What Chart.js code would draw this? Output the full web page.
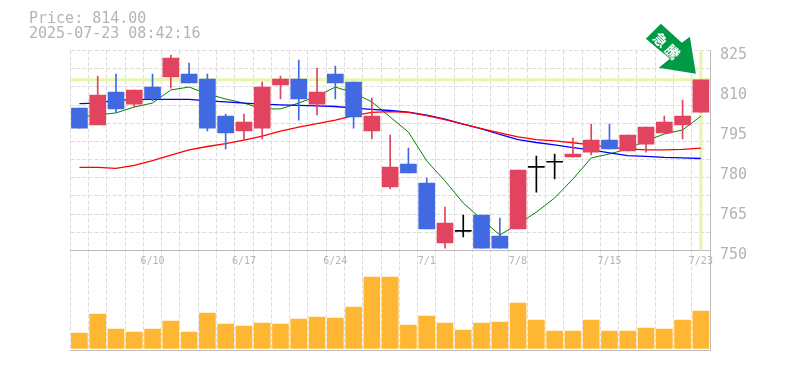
<!DOCTYPE html>
<html lang="ja">
<head>
<meta charset="utf-8" />
<title>Price: 814.00</title>
<style>
*{margin:0;padding:0}
body{background:#fff;width:785px;height:370px;overflow:hidden;position:relative}
canvas{display:block}
#stamp{
    position:absolute;left:29px;top:11px;
    font:15px/14.5px "DejaVu Sans Mono",monospace;
    color:#b4b4b4;white-space:pre;
}
</style>
</head>
<body>
<canvas id="chart" width="785" height="370"></canvas>
<div id="stamp">Price: 814.00
2025-07-23 08:42:16</div>

<script src="https://cdn.jsdelivr.net/npm/chart.js@4.4.1"></script>
<script>
/* daily data */
const dates = ['6/4','6/5','6/6','6/9','6/10','6/11','6/12','6/13','6/16','6/17','6/18','6/19','6/20','6/23','6/24','6/25','6/26','6/27','6/30','7/1','7/2','7/3','7/4','7/7','7/8','7/9','7/10','7/11','7/14','7/15','7/16','7/17','7/18','7/22','7/23'];
const opens  = [803.4,797.1,809.4,804.9,811.3,815.1,816.2,814.3,800.4,794.8,795.9,812.1,814.3,804.9,816.2,813.2,794.8,773.8,782.4,775.3,752.8,757.2,763.3,755.4,758.1,781.2,783.1,785.1,786.9,791.4,787.3,789.9,794.1,797.1,801.9];
const closes = [795.9,808.3,803.1,810.2,806.8,822.2,812.8,795.9,794.1,798.2,811.3,814.3,806.8,809.4,812.8,800.1,800.4,781.3,779.1,758.1,760.3,757.2,750.9,750.9,780.2,781.2,783.1,786.2,791.4,788.1,793.3,796.3,798.2,800.4,814];
const highs  = [803.4,815.4,816.2,810.2,816.2,823.3,820.3,816.2,801.2,801.2,813.2,815.4,821.4,818.4,819.2,813.2,807.2,793.3,788.4,777.2,766.3,763.3,763.3,762.2,780.2,785.4,786.2,792.2,797.4,797.4,793.3,796.3,800.4,806.4,814];
const lows   = [795.9,797.1,801.9,803.8,806.1,810.9,812.8,794.8,788.1,791.4,791.8,806.8,798.9,800.8,806.8,795.9,791.8,773.1,779.1,758.1,750.9,755.1,750.9,750.9,758.1,771.9,776.8,785.1,785.8,788.1,787.3,786.9,794.1,791.8,801.9];
const volumes = [1530,3430,1930,1630,1930,2730,1630,3530,2430,2230,2530,2430,2930,3130,3030,4130,7130,7130,2330,3230,2530,1830,2530,2630,4530,2830,1730,1730,2830,1730,1730,2030,1930,2830,3730];
const maGreen = [800.1,800.8,801.6,803.8,805.3,810.2,811.3,808.7,806.8,805.3,803.1,803.1,805.3,807.9,811.3,809.1,805.7,800.1,794.4,783.6,776.1,767.8,761.8,755.8,759.9,764.4,769.7,776.8,784.7,786.2,788.1,791.1,793.7,795.2,800.4];
const maBlue  = [805.1,805.3,806.4,806.6,806.7,806.7,806.7,806.1,805.7,805.3,804.9,804.6,804.4,804.2,804.0,803.4,802.9,802.5,801.9,800.8,799.3,797.4,795.6,793.5,791.6,790.5,789.6,788.6,787.7,786.6,785.6,785.3,784.9,784.7,784.5];
const maRed   = [781.2,781.2,780.8,781.9,783.7,785.8,787.7,789.0,790.1,791.4,792.9,794.8,796.3,797.6,798.9,800.6,801.8,802.1,801.8,800.6,799.1,797.4,795.7,794.1,792.6,791.6,791.1,790.4,789.6,788.8,788.1,787.7,787.7,787.9,788.4];

const dateTicks  = ['6/10','6/17','6/24','7/1','7/8','7/15','7/23'];
const priceTicks = [825,810,795,780,765,750];
const gridTicks  = [818.2,811.4,804.5,797.7,790.9,784.1,777.3,770.5,763.6,756.8];
const lastPrice  = 814;

const RED='#e2435f', BLUE='#4169e1', DOJI='#000', GRID='#dcdcdc', AXIS='#bbb', LABEL='#b4b4b4', MARK='#e5f5a9', ARROW='#009944';
const candleColor = opens.map((o,i)=> closes[i]>o ? RED : closes[i]<o ? BLUE : DOJI);

/* last price cross under the candles, arrow above them */
const marks = {
    id:'marks',
    beforeDatasetsDraw(c){
        const {ctx,chartArea:a,scales:s} = c;
        const px = s.x.getPixelForValue(dates.length-1), py = s.y.getPixelForValue(lastPrice);
        ctx.save();
        ctx.strokeStyle = MARK;
        ctx.lineWidth = 3;
        ctx.beginPath();
        ctx.moveTo(a.left,py); ctx.lineTo(a.right,py);
        ctx.moveTo(px,s.y.top); ctx.lineTo(px,s.y.bottom);
        ctx.stroke();
        ctx.restore();
    },
    afterDatasetsDraw(c){
        const {ctx,scales:s} = c;
        const px = s.x.getPixelForValue(dates.length-1), py = s.y.getPixelForValue(lastPrice);
        ctx.save();
        ctx.translate(px-5,py-6);   // arrow tip
        ctx.fillStyle = ARROW;
        ctx.beginPath();
        [[0,0],[-6,-37],[-14,-31],[-35,-50],[-50,-35],[-26,-15],[-37,-6]].forEach(p=>ctx.lineTo(p[0],p[1]));
        ctx.closePath();
        ctx.fill();
        ctx.translate(-29,-27.5);
        ctx.rotate(Math.PI/4);
        ctx.fillStyle = '#fff';
        ctx.font = 'bold 14px "Noto Sans CJK JP"';
        ctx.letterSpacing = '3px';
        ctx.textAlign = 'center';
        ctx.textBaseline = 'middle';
        ctx.fillText('急騰',1,0);
        ctx.restore();
    }
};

const line = (data,color,width)=>({type:'line',data,borderColor:color,borderWidth:width,pointRadius:0,tension:0,yAxisID:'y',order:5});

new Chart(document.getElementById('chart'),{
    type:'bar',
    data:{
        labels:dates,
        datasets:[
            line(maRed,'#f00',1.3),
            line(maBlue,'#00f',1.3),
            line(maGreen,'#008000',1),
            {data:lows.map((l,i)=>[l,highs[i]]),backgroundColor:candleColor,barThickness:1,grouped:false,yAxisID:'y',order:3},
            {data:opens.map((o,i)=>[o,closes[i]]),backgroundColor:candleColor,barThickness:16,minBarLength:1,grouped:false,yAxisID:'y',order:2},
            {data:volumes,backgroundColor:'#ffb733',barThickness:16,grouped:false,yAxisID:'yVol',order:1}
        ]
    },
    plugins:[marks],
    options:{
        responsive:false,
        animation:false,
        layout:{padding:{left:70.3,top:50.5,bottom:19.5}},
        plugins:{legend:{display:false},tooltip:{enabled:false}},
        scales:{
            x:{
                position:{y:750},
                offset:true,
                grid:{offset:true,color:GRID,drawTicks:false},
                border:{color:AXIS,dash:[4,2]},
                ticks:{
                    autoSkip:false,maxRotation:0,padding:5,color:LABEL,
                    font:{family:'"DejaVu Sans Mono",monospace',size:10},
                    callback(v){const d=dates[v];return dateTicks.includes(d)?d:''}
                }
            },
            y:{
                position:'right',stack:'panels',stackWeight:2,
                min:750,max:825,
                afterBuildTicks(s){s.ticks=[...priceTicks,...gridTicks].map(value=>({value}))},
                afterFit(s){s.width=75},
                grid:{color:t=>(t.tick.value===750||(priceTicks.includes(t.tick.value)&&t.tick.value!==825))?'transparent':GRID,drawTicks:false},
                border:{color:AXIS,dash:[4,2]},
                ticks:{
                    autoSkip:false,padding:10,color:LABEL,
                    font:{family:'"DejaVu Sans Mono",monospace',size:15,lineHeight:'9px'},
                    // empty first line drops the label a little below its gridline
                    callback:v=>priceTicks.includes(v)?['',String(v)]:''
                }
            },
            yVol:{
                position:'right',stack:'panels',stackWeight:1,
                min:-220,max:9780,
                afterBuildTicks(s){s.ticks=[{value:-220}]},
                afterFit(s){s.width=75},
                grid:{color:AXIS,drawTicks:false},
                border:{color:AXIS},
                ticks:{callback:()=>''}
            }
        }
    }
});
</script>
</body>
</html>
